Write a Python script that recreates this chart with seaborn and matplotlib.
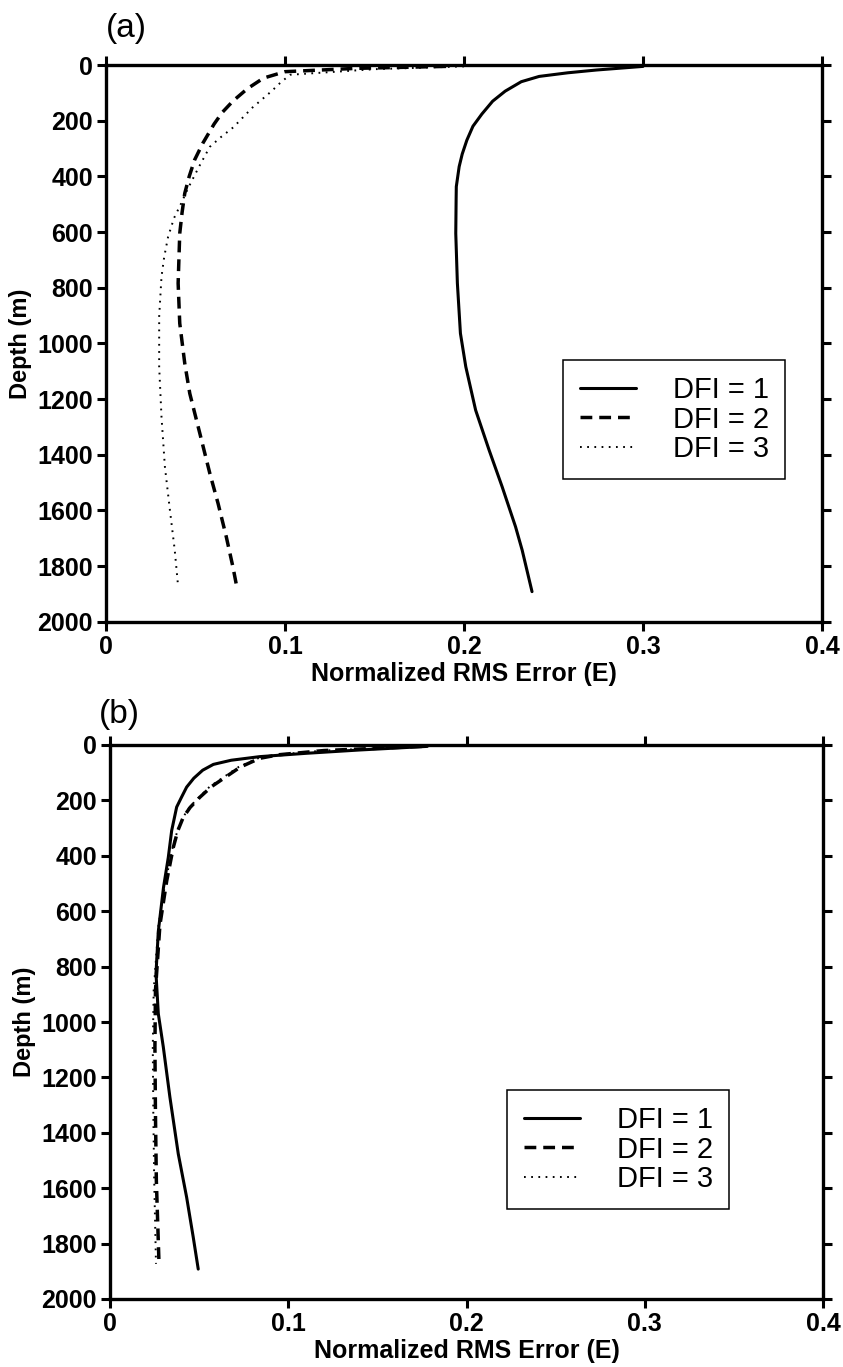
import matplotlib
matplotlib.use("Agg")
import matplotlib.pyplot as plt
import seaborn as sns
import pandas as pd

# ---------------- data ----------------
# Panel (a)
depth_a1 = [5, 10, 18, 28, 41, 60, 94, 130, 176, 220, 270, 320, 365, 437, 482, 605, 784, 964, 1084, 1240,
            1383, 1515, 1659, 1743, 1892]
err_a1 = [0.300, 0.290, 0.274, 0.258, 0.242, 0.232, 0.223, 0.216, 0.210, 0.205, 0.2016, 0.199, 0.1973,
          0.1957, 0.1956, 0.1954, 0.1963, 0.198, 0.201, 0.2065, 0.214, 0.2213, 0.2288, 0.2325, 0.238]
depth_a2 = [5, 12, 24, 47, 85, 129, 170, 212, 282, 341, 400, 461, 530, 605, 784, 928, 1072, 1180, 1323,
            1467, 1575, 1695, 1803, 1886]
err_a2 = [0.19, 0.14, 0.100, 0.088, 0.079, 0.071, 0.065, 0.0604, 0.054, 0.0495, 0.0465, 0.044, 0.0425,
          0.0412, 0.0403, 0.0412, 0.044, 0.0468, 0.0524, 0.058, 0.0626, 0.0672, 0.0709, 0.0734]
depth_a3 = [5, 15, 35, 60, 94, 153, 224, 260, 294, 365, 447, 497, 550, 617, 690, 761, 904, 1084, 1264,
            1443, 1599, 1743, 1874]
err_a3 = [0.20, 0.15, 0.103, 0.098, 0.0925, 0.0818, 0.0711, 0.064, 0.058, 0.052, 0.0455, 0.042, 0.038,
          0.0347, 0.0325, 0.031, 0.0297, 0.0297, 0.031, 0.0329, 0.0357, 0.0384, 0.0403]

# Panel (b)
depth_b1 = [5, 18, 30, 42, 55, 70, 91, 120, 152, 190, 224, 309, 406, 515, 673, 825, 970, 1090, 1271,
            1476, 1633, 1777, 1892]
err_b1 = [0.178, 0.14, 0.110, 0.084, 0.068, 0.058, 0.052, 0.047, 0.043, 0.040, 0.0374, 0.0346, 0.0327,
          0.030, 0.0271, 0.0258, 0.0271, 0.0299, 0.0336, 0.0383, 0.043, 0.0467, 0.0495]
depth_b2 = [5, 20, 35, 48, 80, 115, 150, 188, 225, 261, 310, 370, 491, 650, 886, 1090, 1331, 1572, 1873]
err_b2 = [0.175, 0.12, 0.095, 0.084, 0.073, 0.065, 0.057, 0.0505, 0.045, 0.0411, 0.038, 0.0355, 0.0318,
          0.028, 0.0255, 0.0252, 0.0255, 0.026, 0.0275]
depth_b3 = [5, 20, 35, 48, 80, 115, 150, 188, 225, 261, 310, 370, 491, 650, 886, 1090, 1331, 1572, 1873]
err_b3 = [0.176, 0.12, 0.094, 0.083, 0.072, 0.064, 0.056, 0.050, 0.0445, 0.041, 0.0378, 0.0352, 0.0312,
          0.0272, 0.0245, 0.024, 0.0243, 0.0248, 0.0258]

dfi_levels = [1, 2, 3]
legend_labels = ["DFI = 1", "DFI = 2", "DFI = 3"]
x_ticks = [0, 0.1, 0.2, 0.3, 0.4]
x_ticklabels = ["0", "0.1", "0.2", "0.3", "0.4"]
y_ticks = list(range(0, 2001, 200))
panel_labels = ["(a)", "(b)"]
xlabel = "Normalized RMS Error (E)"
ylabel = "Depth (m)"

# ---------------- style ----------------
sns.set_style("ticks")
plt.rcParams['font.family'] = ['Liberation Sans', 'DejaVu Sans']
plt.rcParams.update({'text.color': 'black', 'axes.labelcolor': 'black',
                     'xtick.color': 'black', 'ytick.color': 'black',
                     'xtick.labelcolor': 'black', 'ytick.labelcolor': 'black'})

W, H = 843, 1367
fig = plt.figure(figsize=(W / 100, H / 100), dpi=100)
ax_a = fig.add_axes([106 / W, 1 - 621.7 / H, (822 - 106) / W, (621.7 - 65) / H])
ax_b = fig.add_axes([110 / W, 1 - 1299 / H, (823 - 110) / W, (1299 - 745) / H])

line_styles = {
    1: dict(linestyle='-', linewidth=2.2),
    2: dict(linestyle=(0, (3.4, 2.0)), linewidth=2.5),
    3: dict(linestyle=(0, (0.9, 2.8)), linewidth=1.4),
}

panels = [
    (ax_a, [(err_a1, depth_a1), (err_a2, depth_a2), (err_a3, depth_a3)], (785 / W, 1 - 360 / H)),
    (ax_b, [(err_b1, depth_b1), (err_b2, depth_b2), (err_b3, depth_b3)], (729 / W, 1 - 1090 / H)),
]

for ax, series, leg_anchor in panels:
    for lvl, lab, (e, d) in zip(dfi_levels, legend_labels, series):
        df = pd.DataFrame({"E": e, "Depth": d})
        sns.lineplot(data=df, x="E", y="Depth", ax=ax, sort=False, estimator=None,
                     color="black", label=lab, legend=False, **line_styles[lvl])
    ax.set_xlim(0, 0.4)
    ax.set_ylim(2000, 0)
    ax.set_xticks(x_ticks)
    ax.set_xticklabels(x_ticklabels, fontsize=18, fontweight='bold', color='black')
    ax.set_yticks(y_ticks)
    ax.set_yticklabels([str(v) for v in y_ticks], fontsize=18, fontweight='bold', color='black')
    ax.tick_params(direction='out', length=6.5, width=2.2, top=True, right=True,
                   labeltop=False, labelright=False, pad=3, color='black')
    for sp in ax.spines.values():
        sp.set_visible(True)
        sp.set_linewidth(2.4)
        sp.set_color('black')
    ax.set_xlabel(xlabel, fontsize=18, fontweight='bold', labelpad=2, color='black')
    ax.set_ylabel(ylabel, fontsize=17, fontweight='bold', labelpad=4, color='black')
    handles = ax.get_lines()[:3]
    leg = ax.legend(handles, legend_labels, loc='upper right', bbox_to_anchor=leg_anchor,
                    bbox_transform=fig.transFigure, fontsize=21, frameon=True, fancybox=False,
                    framealpha=1, edgecolor='black', handlelength=1.95, handletextpad=1.25,
                    labelspacing=0.05, borderpad=0.55, borderaxespad=0)
    leg.get_frame().set_linewidth(1.1)
    for t in leg.get_texts():
        t.set_color('black')

fig.text(106 / W, 1 - 28 / H, panel_labels[0], fontsize=24, ha='left', va='center', color='black')
fig.text(99 / W, 1 - 714 / H, panel_labels[1], fontsize=24, ha='left', va='center', color='black')

fig.savefig("out.png", dpi=100, facecolor='white')
